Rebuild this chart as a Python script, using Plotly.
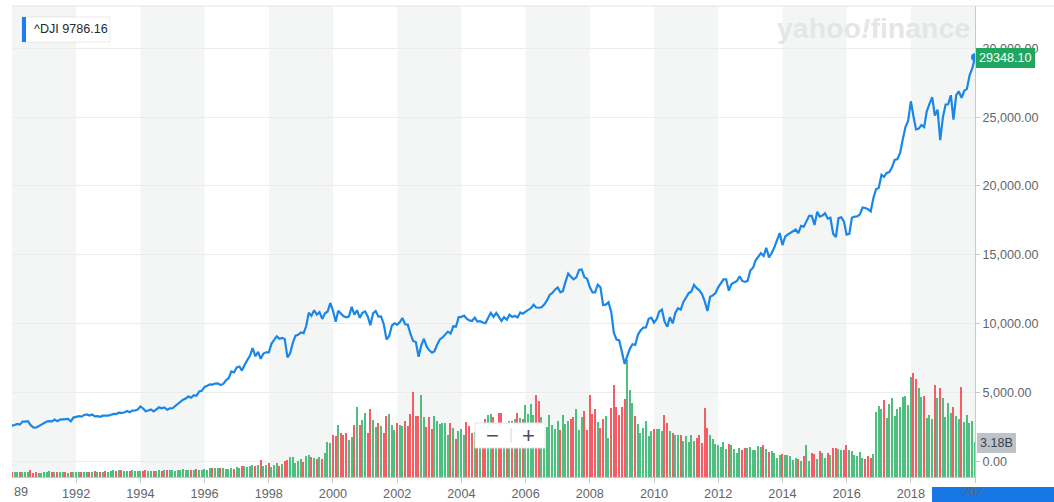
import pandas as pd
import plotly.graph_objects as go

# ---------------- data ----------------
months = pd.date_range("1989-12-01", "2020-01-01", freq="MS")

price_1990s = [2753,
    2591, 2627, 2707, 2657, 2877, 2881, 2905, 2614, 2453, 2442, 2560, 2634,
    2736, 2882, 2914, 2888, 3028, 2907, 3025, 3044, 3017, 3069, 2895, 3169,
    3224, 3267, 3236, 3359, 3397, 3319, 3394, 3257, 3272, 3226, 3305, 3301,
    3310, 3371, 3435, 3428, 3527, 3516, 3540, 3651, 3555, 3681, 3684, 3754,
    3978, 3832, 3636, 3682, 3758, 3625, 3765, 3913, 3843, 3908, 3739, 3834,
    3844, 4011, 4158, 4321, 4465, 4556, 4709, 4611, 4789, 4756, 5075, 5117,
    5395, 5486, 5588, 5569, 5643, 5655, 5529, 5616, 5882, 6029, 6522, 6448,
    6813, 6877, 6584, 7009, 7331, 7673, 8223, 7622, 7945, 7442, 7823, 7908,
    7907, 8546, 8800, 9063, 8900, 8952, 8883, 7539, 7843, 8592, 9117, 9181,
    9359, 9307, 9786, 10789, 10560, 10971, 10655, 10829, 10337, 10730, 10878, 11497]
price_2000s = [
    10941, 10128, 10922, 10734, 10522, 10448, 10522, 11215, 10651, 10971, 10415, 10787,
    10887, 10495, 9879, 10735, 10912, 10502, 10523, 9950, 8848, 9075, 9852, 10021,
    9920, 10106, 10404, 9946, 9925, 9243, 8737, 8664, 7592, 8397, 8896, 8342,
    8054, 7891, 7992, 8480, 8850, 8985, 9234, 9416, 9275, 9801, 9782, 10454,
    10488, 10584, 10358, 10226, 10188, 10435, 10140, 10174, 10080, 10027, 10428, 10783,
    10490, 10766, 10504, 10193, 10467, 10275, 10641, 10482, 10569, 10440, 10806, 10718,
    10865, 10993, 11109, 11367, 11168, 11150, 11186, 11381, 11679, 12081, 12222, 12463,
    12622, 12269, 12354, 13063, 13628, 13409, 13212, 13358, 13896, 13930, 13372, 13265,
    12650, 12266, 12263, 12820, 12638, 11350, 11378, 11544, 10851, 9325, 8829, 8776,
    8001, 7063, 7609, 8168, 8500, 8447, 9172, 9496, 9712, 9713, 10345, 10428]
price_2010s = [
    10067, 10325, 10857, 11009, 10137, 9774, 10466, 10015, 10788, 11118, 11006, 11578,
    11892, 12226, 12320, 12811, 12570, 12414, 12143, 11614, 10913, 11955, 12046, 12218,
    12633, 12952, 13212, 13214, 12393, 12880, 13009, 13091, 13437, 13096, 13026, 13104,
    13861, 14054, 14579, 14840, 15116, 14910, 15500, 14810, 15130, 15546, 16086, 16577,
    15699, 16322, 16458, 16581, 16717, 16827, 16563, 17098, 17043, 17391, 17828, 17823,
    17165, 18133, 17776, 17841, 18011, 17620, 17690, 16528, 16285, 17664, 17720, 17425,
    16466, 16517, 17685, 17774, 17787, 17930, 18432, 18401, 18308, 18142, 19124, 19763,
    19864, 20812, 20663, 20941, 21009, 21350, 21891, 21948, 22405, 23377, 24272, 24719,
    26149, 25029, 24103, 24163, 24416, 24271, 25415, 25965, 26458, 25116, 25538, 23327,
    24999, 25916, 25929, 26593, 24815, 26600, 26864, 26403, 26917, 27046, 28051, 28538,
    29348.10]

# monthly volume, billions
vol_1990s = [0.42,
    0.45, 0.42, 0.45, 0.42, 0.48, 0.45, 0.48, 0.67, 0.36, 0.42, 0.39, 0.39,
    0.45, 0.48, 0.52, 0.45, 0.48, 0.42, 0.42, 0.45, 0.45, 0.39, 0.45, 0.42,
    0.45, 0.48, 0.45, 0.42, 0.45, 0.48, 0.42, 0.52, 0.45, 0.42, 0.48, 0.58,
    0.48, 0.55, 0.61, 0.58, 0.64, 0.64, 0.52, 0.58, 0.52, 0.61, 0.55, 0.58,
    0.58, 0.55, 0.61, 0.55, 0.58, 0.58, 0.55, 0.61, 0.52, 0.64, 0.64, 0.64,
    0.61, 0.58, 0.64, 0.61, 0.70, 0.61, 0.67, 0.67, 0.64, 0.73, 0.67, 0.67,
    0.73, 0.67, 0.79, 0.85, 0.82, 0.85, 0.79, 0.79, 0.73, 0.76, 0.79, 0.73,
    0.91, 0.85, 0.97, 0.97, 0.91, 1.00, 1.12, 1.00, 1.12, 1.55, 1.00, 1.12,
    1.30, 0.91, 1.12, 1.30, 1.00, 1.21, 1.42, 1.58, 1.82, 1.85, 1.30, 1.48,
    1.67, 1.36, 1.88, 2.03, 1.85, 1.73, 1.61, 1.82, 1.61, 2.18, 3.18, 3.12]
vol_2000s = [
    3.85, 3.70, 4.76, 4.03, 3.79, 4.03, 3.33, 3.61, 4.70, 6.33, 4.70, 5.18,
    5.85, 4.03, 6.15, 5.21, 4.52, 4.94, 4.61, 4.03, 5.58, 5.76, 4.76, 4.30,
    4.94, 4.70, 4.64, 5.06, 4.64, 5.76, 7.73, 5.55, 5.55, 7.48, 5.45, 4.58,
    5.45, 4.39, 5.58, 5.06, 4.85, 4.91, 4.94, 3.85, 4.94, 4.45, 3.48, 4.21,
    4.39, 3.85, 5.00, 4.61, 4.03, 4.10, 4.20, 4.30, 4.20, 5.30, 5.67, 5.76,
    5.45, 4.60, 5.85, 5.85, 4.60, 4.80, 5.06, 5.10, 5.24, 5.85, 5.36, 5.24,
    6.58, 5.76, 6.67, 5.60, 7.42, 6.94, 5.50, 4.70, 4.55, 5.67, 4.76, 4.39,
    5.06, 4.24, 5.67, 4.82, 5.06, 5.24, 5.45, 6.21, 4.24, 5.45, 6.03, 4.24,
    7.48, 5.76, 6.21, 5.00, 4.45, 5.30, 5.55, 3.55, 6.27, 8.33, 6.33, 5.67,
    6.33, 7.12, 10.60, 7.88, 6.76, 5.52, 4.85, 4.03, 4.45, 5.12, 3.73, 4.15]
vol_2010s = [
    4.39, 4.39, 4.39, 4.15, 5.60, 4.94, 4.15, 4.03, 3.79, 3.79, 3.79, 3.24,
    3.73, 3.18, 3.85, 3.24, 3.55, 3.85, 3.12, 6.27, 4.45, 3.85, 3.42, 3.03,
    2.94, 2.76, 3.18, 2.58, 3.00, 2.88, 2.58, 2.21, 2.67, 2.48, 2.64, 2.64,
    2.73, 2.48, 2.48, 2.85, 2.76, 2.94, 2.58, 2.27, 2.33, 2.21, 1.73, 2.03,
    2.12, 2.03, 2.03, 1.91, 1.58, 1.76, 1.61, 1.42, 1.88, 2.88, 1.48, 2.21,
    2.12, 1.67, 2.39, 2.15, 1.76, 2.21, 2.03, 2.67, 2.67, 2.58, 2.48, 2.42,
    2.88, 2.48, 2.33, 2.03, 1.88, 2.30, 1.73, 1.67, 1.88, 1.76, 2.06, 5.91,
    6.45, 6.21, 6.97, 5.39, 6.67, 7.21, 5.55, 6.15, 6.39, 7.27, 7.33, 6.58,
    9.09, 9.48, 8.94, 8.12, 7.27, 7.36, 5.39, 5.67, 5.30, 8.39, 7.21, 8.09,
    7.21, 5.42, 6.76, 5.82, 6.39, 5.55, 5.24, 8.21, 5.00, 5.67, 4.94, 5.09,
    3.18]

year_ticks = list(range(1992, 2021, 2))
band_years = [(1990, 1992), (1994, 1996), (1998, 2000), (2002, 2004),
              (2006, 2008), (2010, 2012), (2014, 2016), (2018, 2020)]
price_ticks = [0, 5000, 10000, 15000, 20000, 25000, 30000]
legend_label = "^DJI 9786.16"
last_label = "29348.10"
vol_label = "3.18B"

price = price_1990s + price_2000s + price_2010s
vol = vol_1990s + vol_2000s + vol_2010s

# ---------------- styling ----------------
UP, DOWN = "#4fbf80", "#f55c63"
LINE = "#1a87e8"
AX = "#c6cacf"
TXT = "#5f666d"
FONT = "Liberation Sans, Arial, sans-serif"

W, H = 1054, 502
PL, PR, PT, PB = 12, 975, 6, 477


def px(x):
    return (x - PL) / (PR - PL)


def py(y):
    return (PB - y) / (PB - PT)


bar_colors = [UP] + [UP if price[i] >= price[i - 1] else DOWN for i in range(1, len(price))]

fig = go.Figure()
fig.add_trace(go.Bar(x=months, y=vol, yaxis="y", marker=dict(color=bar_colors, line=dict(width=0)),
                     width=15 * 86400000, hoverinfo="skip"))
fig.add_trace(go.Scatter(x=months, y=price, yaxis="y2", mode="lines",
                         line=dict(color=LINE, width=2.2), hoverinfo="skip"))
fig.add_trace(go.Scatter(x=[months[-1]], y=[price[-1]], yaxis="y2", mode="markers",
                         marker=dict(color=LINE, size=8), cliponaxis=False, hoverinfo="skip"))

shapes = []
for a, b in band_years:
    shapes.append(dict(type="rect", xref="x", yref="paper", x0=f"{a}-01-01", x1=f"{b}-01-01",
                       y0=0, y1=1, fillcolor="#f4f6f6", line=dict(width=0), layer="below"))
# top border
shapes.append(dict(type="line", xref="paper", yref="paper", x0=0, x1=px(W), y0=1, y1=1,
                   line=dict(color="#e1e4e7", width=1)))
# bottom-right blue bar
shapes.append(dict(type="rect", xref="paper", yref="paper", x0=px(932), x1=px(W + 2),
                   y0=py(H + 2), y1=py(487), fillcolor="#1677e5", line=dict(width=0), layer="below"))
# legend box
shapes.append(dict(type="rect", xref="paper", yref="paper", x0=px(22), x1=px(110),
                   y0=py(42), y1=py(17), fillcolor="white", line=dict(color="rgba(0,0,0,0.08)", width=1)))
shapes.append(dict(type="rect", xref="paper", yref="paper", x0=px(22), x1=px(26),
                   y0=py(42), y1=py(17), fillcolor="#1b7ff0", line=dict(width=0)))
# zoom widget
shapes.append(dict(type="rect", xref="paper", yref="paper", x0=px(475), x1=px(545),
                   y0=py(448), y1=py(423), fillcolor="white", line=dict(color="#e4e6e8", width=1)))
shapes.append(dict(type="line", xref="paper", yref="paper", x0=px(511), x1=px(511),
                   y0=py(443), y1=py(428), line=dict(color="#d3d6d9", width=1)))

annotations = [
    dict(text=legend_label, x=px(32), y=py(29.5), xanchor="left", yanchor="middle",
         font=dict(size=12.6, color="#232a31")),
    dict(text="<b>yahoo<i>!</i>finance</b>", x=px(873), y=py(28), xanchor="center", yanchor="middle",
         font=dict(size=28.5, color="#e4e6e7")),
    dict(text=last_label, x=px(1005), y=py(58), xanchor="center", yanchor="middle",
         font=dict(size=12.6, color="white"), bgcolor="#1fa75f", bordercolor="#1fa75f",
         borderwidth=1, borderpad=2),
    dict(text=vol_label, x=px(996.5), y=py(442.5), xanchor="center", yanchor="middle",
         font=dict(size=12.6, color="#3d4248"), bgcolor="#bec3ca", bordercolor="#bec3ca",
         borderwidth=1, borderpad=2),
    dict(text="\u2212", x=px(492), y=py(435), xanchor="center", yanchor="middle",
         font=dict(size=22, color="#464e56")),
    dict(text="+", x=px(528), y=py(435), xanchor="center", yanchor="middle",
         font=dict(size=22, color="#464e56")),
    dict(text="89", x=px(12), y=py(492), xanchor="left", yanchor="middle",
         font=dict(size=12.7, color=TXT)),
    dict(text="202", x=px(960), y=py(492), xanchor="left", yanchor="middle",
         font=dict(size=12.7, color=TXT)),
]
for a in annotations:
    a.setdefault("xref", "paper")
    a.setdefault("yref", "paper")
    a.setdefault("showarrow", False)

fig.update_layout(
    width=W, height=H,
    margin=dict(l=PL, r=W - PR, t=PT, b=H - PB, pad=0, autoexpand=False),
    paper_bgcolor="white", plot_bgcolor="white",
    showlegend=False, bargap=0,
    font=dict(family=FONT, color=TXT),
    xaxis=dict(type="date", range=["1990-01-01", "2020-01-01"], automargin=False,
               tickvals=[f"{y}-01-01" for y in year_ticks],
               ticktext=[str(y) if y != 2020 else "" for y in year_ticks],
               ticks="outside", ticklen=5, tickcolor=AX, showline=True, linecolor=AX,
               showgrid=False, zeroline=False, tickfont=dict(size=12.7, color=TXT)),
    yaxis=dict(range=[0, (PB - PT) / 11.0], visible=False, showgrid=False, zeroline=False,
               automargin=False),
    yaxis2=dict(overlaying="y", side="right", range=[-1148, 33073], tickvals=price_ticks,
                tickformat=",.2f", showgrid=True, gridcolor="#ececec", showline=True,
                linecolor=AX, ticks="outside", ticklen=4, tickcolor=AX, zeroline=False,
                automargin=False, tickfont=dict(size=12.6, color=TXT)),
    shapes=shapes,
    annotations=annotations,
)

fig.write_html("out.html")
